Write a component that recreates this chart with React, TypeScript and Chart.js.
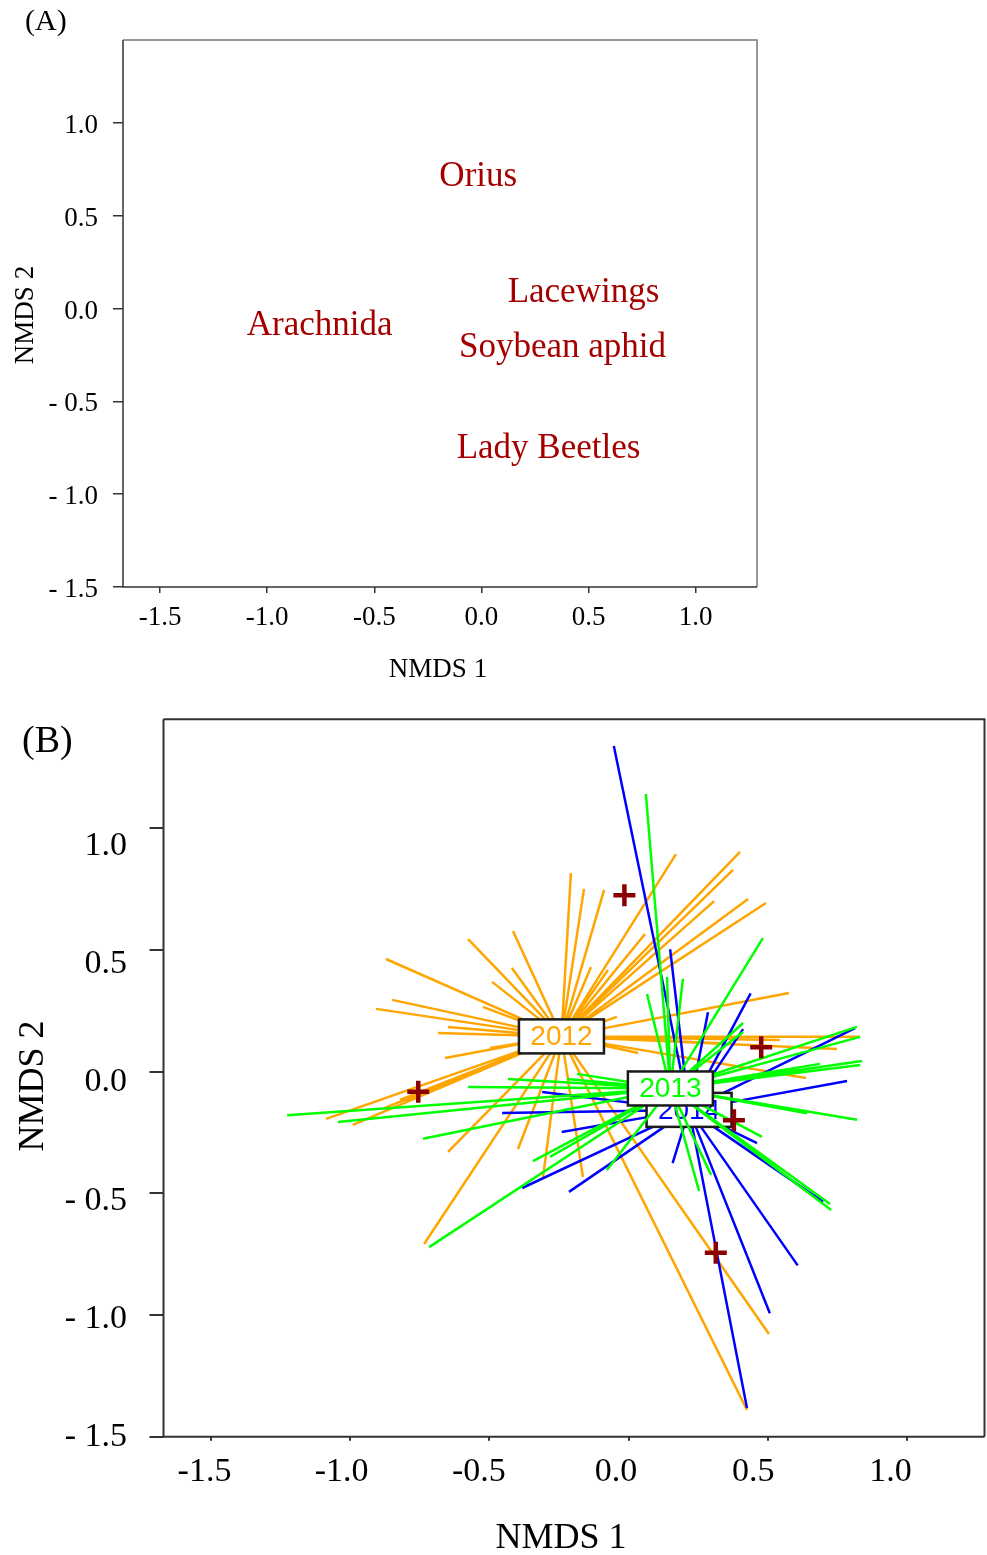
import React, { useEffect, useRef } from "react";
import { Chart, registerables } from "chart.js";

Chart.register(...registerables);

// ---------- data ----------
const tickValues = [-1.5, -1.0, -0.5, 0.0, 0.5, 1.0];
const xTickLabels = ["-1.5", "-1.0", "-0.5", "0.0", "0.5", "1.0"];
const yTickLabels = ["- 1.5", "- 1.0", "- 0.5", "0.0", "0.5", "1.0"];

const speciesNames = ["Orius", "Lacewings", "Soybean aphid", "Arachnida", "Lady Beetles"];
const speciesX = [-0.015, 0.476, 0.378, -0.755, 0.313];
const speciesY = [0.725, 0.1, -0.2, -0.083, -0.744];

const yearLabels = ["2012", "2013", "2014"];
const yearColors = ["#FFA500", "#00FF00", "#0000FF"];
const centroidX = [-0.241, 0.15, 0.217];
const centroidY = [0.145, -0.069, -0.157];

const sites2012X = [
  -0.207, -0.16, -0.088, 0.17, 0.4, 0.375, 0.307, 0.429, 0.493, 0.059,
  -0.135, -0.074, -0.415, -0.576, -0.419, -0.49, -0.871, -0.849, -0.907, -0.523,
  -0.648, -0.684, -0.659, -0.497, 0.576, -0.042, 0.83, 0.748, 0.637, 0.034,
  -1.086, -0.99, -0.875, -0.821, -0.785, -0.749, -0.713, -0.677, -0.648, -0.397,
  -0.307, -0.164, -0.734, 0.504, 0.425, 0.329, 0.543, -0.8, -0.765,
];
const sites2012Y = [
  0.816, 0.751, 0.747, 0.894, 0.903, 0.829, 0.701, 0.71, 0.693, 0.566,
  0.43, 0.418, 0.578, 0.545, 0.426, 0.369, 0.463, 0.295, 0.258, 0.266,
  0.184, 0.159, 0.056, 0.097, 0.323, 0.225, 0.143, 0.093, -0.026, 0.077,
  -0.194, -0.219, -0.149, -0.116, -0.108, -0.084, -0.075, -0.055, -0.33, -0.318,
  -0.433, -0.433, -0.708, -1.078, -1.39, 0.117, 0.13, -0.125, -0.098,
];

const sites2013X = [
  0.062, -1.226, -1.043, -0.738, -0.716, -0.343, -0.576, -0.433, -0.221, -0.185,
  0.066, 0.138, 0.195, 0.482, 0.82, 0.831, 0.838, 0.831, 0.82, 0.479,
  0.727, 0.723, 0.253, 0.296, -0.078, -0.282, 0.411, 0.411, 0.687, 0.641,
];
const sites2013Y = [
  1.141, -0.179, -0.207, -0.276, -0.721, -0.368, -0.063, -0.03, -0.03, -0.009,
  0.319, 0.389, 0.381, 0.549, 0.184, 0.143, 0.044, 0.027, -0.198, -0.268,
  -0.568, -0.544, -0.49, -0.424, -0.404, -0.35, 0.2, 0.163, 0.032, -0.171,
];

const sites2014X = [
  -0.053, 0.149, 0.285, 0.438, 0.411, 0.813, 0.784, 0.158, 0.461, -0.454,
  -0.31, -0.24, -0.382, -0.214, 0.425, 0.507, 0.607, 0.698,
];
const sites2014Y = [
  1.338, 0.503, 0.244, 0.322, 0.175, 0.179, -0.038, -0.376, -0.294, -0.17,
  -0.084, -0.248, -0.478, -0.494, -1.382, -0.993, -0.796, -0.535,
];

// ---------- styling ----------
const SERIF = "'Liberation Serif', 'Times New Roman', serif";
const SANS = "'Liberation Sans', Arial, sans-serif";
const W = 987;
const H_A = 690;
const H_B = 865;

type TextItem = {
  text: string;
  x: number;
  y: number;
  size: number;
  align?: CanvasTextAlign;
  rotate?: number;
};

function textPlugin(items: TextItem[]) {
  return {
    id: "panelText",
    afterDraw(chart: any) {
      const ctx = chart.ctx;
      items.forEach((it) => {
        ctx.save();
        ctx.translate(it.x, it.y);
        if (it.rotate) ctx.rotate(it.rotate);
        ctx.font = `${it.size}px ${SERIF}`;
        ctx.fillStyle = "#000";
        ctx.textAlign = it.align || "center";
        ctx.textBaseline = "alphabetic";
        ctx.fillText(it.text, 0, 0);
        ctx.restore();
      });
    },
  };
}

function framePlugin(lw: number, dark: string, light: string) {
  return {
    id: "frame",
    beforeDatasetsDraw(chart: any) {
      const { ctx, chartArea: a } = chart;
      ctx.save();
      ctx.lineWidth = lw;
      ctx.strokeStyle = light;
      ctx.beginPath();
      ctx.moveTo(a.left, a.top);
      ctx.lineTo(a.right, a.top);
      ctx.lineTo(a.right, a.bottom);
      ctx.stroke();
      ctx.strokeStyle = dark;
      ctx.beginPath();
      ctx.moveTo(a.left, a.top);
      ctx.lineTo(a.left, a.bottom);
      ctx.lineTo(a.right, a.bottom);
      ctx.stroke();
      ctx.restore();
    },
  };
}

function labelFor(values: number[], labels: string[]) {
  return (v: any) => {
    const i = values.findIndex((t) => Math.abs(t - Number(v)) < 1e-6);
    return i >= 0 ? labels[i] : "";
  };
}

type ScaleOpts = {
  xRange: [number, number];
  yRange: [number, number];
  xLabelRange: [number, number];
  yLabelRange: [number, number];
  yWidth: number;
  xHeight: number;
  fontSize: number;
  yTickLen: number;
  xTickLen: number;
  yPad: number;
  xPad: number;
  lineW: number;
};

function makeScales(o: ScaleOpts) {
  const zero = (s: any) => {
    s.paddingLeft = 0;
    s.paddingRight = 0;
    s.paddingTop = 0;
    s.paddingBottom = 0;
  };
  const setTicks = (s: any) => {
    s.ticks = tickValues.map((v) => ({ value: v }));
  };
  const markAxis = (axis: "x" | "y", range: [number, number], len: number) => ({
    type: "linear",
    axis,
    position: axis === "x" ? "bottom" : "left",
    weight: 0,
    min: range[0],
    max: range[1],
    afterBuildTicks: setTicks,
    afterFit: (s: any) => {
      if (axis === "x") s.height = len;
      else s.width = len;
      zero(s);
    },
    grid: {
      display: true,
      drawOnChartArea: false,
      drawTicks: true,
      tickLength: len,
      color: "#333",
      lineWidth: o.lineW,
    },
    border: { display: false },
    ticks: { display: false, autoSkip: false },
  });
  const labelAxis = (
    axis: "x" | "y",
    range: [number, number],
    size: number,
    pad: number,
    labels: string[]
  ) => ({
    type: "linear",
    axis,
    position: axis === "x" ? "bottom" : "left",
    weight: 1,
    min: range[0],
    max: range[1],
    afterBuildTicks: setTicks,
    afterFit: (s: any) => {
      if (axis === "x") s.height = size;
      else s.width = size;
      zero(s);
    },
    grid: { display: false, drawTicks: false, tickLength: 0 },
    border: { display: false },
    ticks: {
      autoSkip: false,
      maxRotation: 0,
      minRotation: 0,
      padding: pad,
      color: "#000",
      font: { family: SERIF, size: o.fontSize },
      callback: labelFor(tickValues, labels),
    },
  });
  return {
    x: markAxis("x", o.xRange, o.xTickLen),
    y: markAxis("y", o.yRange, o.yTickLen),
    xl: labelAxis("x", o.xLabelRange, o.xHeight - o.xTickLen, o.xPad, xTickLabels),
    yl: labelAxis("y", o.yLabelRange, o.yWidth - o.yTickLen, o.yPad, yTickLabels),
  };
}

function PanelA() {
  const ref = useRef<HTMLCanvasElement | null>(null);
  useEffect(() => {
    if (!ref.current) return;
    const speciesText = {
      id: "speciesText",
      afterDatasetsDraw(chart: any) {
        const ctx = chart.ctx;
        const meta = chart.getDatasetMeta(0);
        ctx.save();
        ctx.font = `35px ${SERIF}`;
        ctx.fillStyle = "#A50000";
        ctx.textAlign = "center";
        ctx.textBaseline = "alphabetic";
        meta.data.forEach((pt: any, i: number) => {
          ctx.fillText(speciesNames[i], pt.x, pt.y + 11.5);
        });
        ctx.restore();
      },
    };
    const chart = new Chart(ref.current, {
      type: "scatter",
      data: {
        datasets: [
          {
            label: "species",
            data: speciesX.map((x, i) => ({ x, y: speciesY[i] })),
            pointRadius: 0,
            pointHoverRadius: 0,
          },
        ],
      },
      options: {
        responsive: false,
        animation: false,
        events: [],
        layout: { autoPadding: false, padding: { left: 0, top: 40, right: 230, bottom: 0 } },
        plugins: { legend: { display: false }, tooltip: { enabled: false } },
        scales: makeScales({
          xRange: [-1.673, 1.286],
          yRange: [-1.5, 1.447],
          xLabelRange: [-1.673, 1.286],
          yLabelRange: [-1.484, 1.463],
          yWidth: 123,
          xHeight: 103,
          fontSize: 27,
          yTickLen: 10,
          xTickLen: 6,
          yPad: 15,
          xPad: 9,
          lineW: 1.5,
        }) as any,
      },
      plugins: [
        framePlugin(1.5, "#333", "#777"),
        speciesText,
        textPlugin([
          { text: "(A)", x: 25, y: 30, size: 30, align: "left" },
          { text: "NMDS 1", x: 438, y: 677, size: 27 },
          { text: "NMDS 2", x: 33, y: 315, size: 27, rotate: -Math.PI / 2 },
        ]),
      ],
    } as any);
    return () => chart.destroy();
  }, []);
  return (
    <canvas
      ref={ref}
      width={W}
      height={H_A}
      style={{ position: "absolute", left: 0, top: 0, width: W, height: H_A }}
    />
  );
}

function spiderData(cx: number, cy: number, xs: number[], ys: number[]) {
  const out: { x: number; y: number }[] = [];
  xs.forEach((x, i) => {
    out.push({ x: cx, y: cy });
    out.push({ x, y: ys[i] });
    out.push({ x: NaN, y: NaN });
  });
  return out;
}

function PanelB() {
  const ref = useRef<HTMLCanvasElement | null>(null);
  useEffect(() => {
    if (!ref.current) return;
    const drawBox = (chart: any, k: number) => {
      const ctx = chart.ctx;
      const px = chart.scales.x.getPixelForValue(centroidX[k]);
      const py = chart.scales.y.getPixelForValue(centroidY[k]);
      const bw = 85;
      const bh = 34;
      ctx.save();
      ctx.fillStyle = "#FFFFFF";
      ctx.fillRect(px - bw / 2, py - bh / 2, bw, bh);
      ctx.strokeStyle = "#1a1a1a";
      ctx.lineWidth = 2.5;
      ctx.strokeRect(px - bw / 2, py - bh / 2, bw, bh);
      ctx.font = `28px ${SANS}`;
      ctx.fillStyle = yearColors[k];
      ctx.textAlign = "center";
      ctx.textBaseline = "middle";
      ctx.fillText(yearLabels[k], px, py + 1);
      ctx.restore();
    };
    const boxes = {
      id: "yearBoxes",
      afterDatasetDraw(chart: any, args: any) {
        const ds = chart.data.datasets[args.index];
        if (ds.label === "2014") drawBox(chart, 2);
        if (ds.label === "2013") {
          drawBox(chart, 1);
          drawBox(chart, 0);
        }
      },
    };
    const lineDs = (k: number, xs: number[], ys: number[], order: number) => ({
      label: yearLabels[k],
      data: spiderData(centroidX[k], centroidY[k], xs, ys),
      showLine: true,
      spanGaps: false,
      borderColor: yearColors[k],
      borderWidth: 2.5,
      pointRadius: 0,
      pointHoverRadius: 0,
      order,
    });
    const chart = new Chart(ref.current, {
      type: "scatter",
      data: {
        datasets: [
          lineDs(0, sites2012X, sites2012Y, 4),
          lineDs(2, sites2014X, sites2014Y, 3),
          lineDs(1, sites2013X, sites2013Y, 2),
          {
            label: "species",
            data: speciesX.map((x, i) => ({ x, y: speciesY[i] })),
            pointStyle: "cross",
            pointRadius: 11,
            pointHoverRadius: 11,
            pointBorderWidth: 4.5,
            pointBorderColor: "#8B0000",
            pointBackgroundColor: "#8B0000",
            showLine: false,
            order: 1,
          },
        ],
      },
      options: {
        responsive: false,
        animation: false,
        events: [],
        layout: { autoPadding: false, padding: { left: 0, top: 29.3, right: 2.5, bottom: 0 } },
        plugins: { legend: { display: false }, tooltip: { enabled: false } },
        scales: makeScales({
          xRange: [-1.6694, 1.2775],
          yRange: [-1.5, 1.448],
          xLabelRange: [-1.6494, 1.3426],
          yLabelRange: [-1.497, 1.5351],
          yWidth: 163.5,
          xHeight: 118.3,
          fontSize: 34,
          yTickLen: 14,
          xTickLen: 4,
          yPad: 22.5,
          xPad: 11,
          lineW: 2,
        }) as any,
      },
      plugins: [
        framePlugin(2, "#333", "#333"),
        boxes,
        textPlugin([
          { text: "(B)", x: 22, y: 62, size: 38, align: "left" },
          { text: "NMDS 1", x: 561, y: 858, size: 36 },
          { text: "NMDS 2", x: 43, y: 396, size: 36, rotate: -Math.PI / 2 },
        ]),
      ],
    } as any);
    return () => chart.destroy();
  }, []);
  return (
    <canvas
      ref={ref}
      width={W}
      height={H_B}
      style={{ position: "absolute", left: 0, top: H_A, width: W, height: H_B }}
    />
  );
}

export default function App() {
  return (
    <div
      style={{
        position: "absolute",
        left: 0,
        top: 0,
        width: W,
        height: H_A + H_B,
        background: "#fff",
      }}
    >
      <PanelA />
      <PanelB />
    </div>
  );
}
